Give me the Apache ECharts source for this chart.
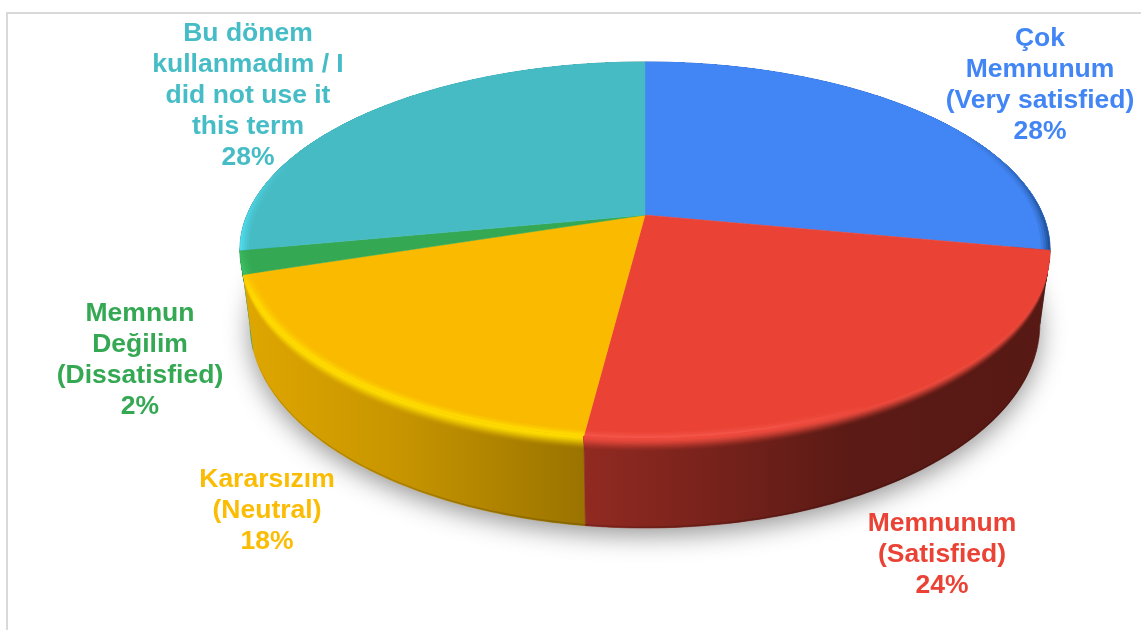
<!DOCTYPE html>
<html><head><meta charset="utf-8">
<style>html,body{margin:0;padding:0;background:#fff}#c{width:1141px;height:630px}</style>
<script src="https://cdn.jsdelivr.net/npm/echarts@6/dist/echarts.min.js"></script>
</head><body><div id="c"></div>
<script>
// ---- data ----
const categories = ['Çok\nMemnunum\n(Very satisfied)', 'Memnunum\n(Satisfied)', 'Kararsızım\n(Neutral)', 'Memnun\nDeğilim\n(Dissatisfied)', 'Bu dönem\nkullanmadım / I\ndid not use it\nthis term'];
const values = [28, 24, 18, 2, 28];
// ---- styles ----
const faceColors = ['#4285f4', '#ea4335', '#f9ba00', '#34a853', '#46bbc4'];
const labelColors = ['#4285f4', '#ea4335', '#fbbc04', '#34a853', '#46bdc6'];
const bevelColors = ['#4285f4', '#ee4a3d', '#ffdc00', '#34a853', '#46bbc4'];
const rimBands = [
  {color: '#1d4f92', yFrom: 130, yTo: 250},
  {color: '#f4564a', yFrom: 405, yTo: 437},
  {color: '#ffdc00', yFrom: 265, yTo: 300},
  {color: '#3bbf62', yFrom: 240, yTo: 270},
  {color: '#4fdcec', yFrom: 160, yTo: 250}
];
const labelAnchors = [[1040, 85], [942, 555], [267, 511], [140, 360], [248, 96]];
const shadeStops = [[240, .9], [400, .8], [585, .62], [700, .52], [850, .39], [1050, .37]];
// projected geometry of the top and bottom discs
const topPlane = {cx: 645, cy: 215, a: 181.5, d: 398, c: -0.186};
const bottomPlane = {cx: 645, cy: 286, a: 197, d: 388, c: -0.186};

const total = values.reduce((s, v) => s + v, 0);
function project(pl, deg, r) {
  const t = deg * Math.PI / 180, u = Math.sin(t) * r, v = -Math.cos(t) * r, w = 1 + pl.c * v;
  return [pl.cx + pl.d * u / w, pl.cy + pl.a * v / w];
}
function between(deg, s) {
  const p = project(topPlane, deg, 1), q = project(bottomPlane, deg, 1);
  return [p[0] + (q[0] - p[0]) * s, p[1] + (q[1] - p[1]) * s];
}
function hex(c) { return [1, 3, 5].map(i => parseInt(c.substr(i, 2), 16)); }
function mix(a, b, t) { return a.map((x, i) => x + (b[i] - x) * t); }
function css(c) { return 'rgb(' + c.map(Math.round).join(',') + ')'; }
function wallGradient(idx, hiT, dark) {
  const base = hex(faceColors[idx]), hi = hex(bevelColors[idx]);
  const stops = shadeStops.map(([x, sh]) => {
    const w = base.map(b => b * sh * (dark || 1));
    return {offset: (x - 240) / 810, color: css(mix(w, hi, hiT))};
  });
  return new echarts.graphic.LinearGradient(240, 0, 1050, 0, stops, true);
}
function angles(idx) {
  let s = 0;
  for (let i = 0; i < idx; i++) s += values[i];
  return [s / total * 360, (s + values[idx]) / total * 360];
}
function sweep(a, b, fn) {
  const pts = [], n = Math.max(2, Math.ceil(b - a));
  for (let i = 0; i <= n; i++) pts.push(fn(a + (b - a) * i / n));
  return pts;
}
function strip(a, b, s0, s1) {
  return sweep(a, b, d => between(d, s0)).concat(sweep(a, b, d => between(d, s1)).reverse());
}
const bevelDepth = .16, bevelSteps = 16;

function renderWall(params, api) {
  const idx = params.dataIndex, [a, b] = angles(idx);
  const mid = (a + b) / 2 * Math.PI / 180, base = Math.round(-Math.cos(mid) * 100) * 100;
  const children = [];
  if (idx === 0) {
    children.push({type: 'polygon', z2: -100000, shape: {points: sweep(0, 360, d => project(bottomPlane, d, 1))},
      style: {fill: '#fff', shadowBlur: 26, shadowColor: 'rgba(0,0,0,.42)', shadowOffsetY: 7}});
  }
  const g = wallGradient(idx, 0);
  children.push({type: 'polygon', z2: base, shape: {points: strip(a, b, 0, 1)}, style: {fill: g, stroke: g, lineWidth: .6}});
  children.push({type: 'polygon', z2: base + 1, shape: {points: strip(a, b, .98, 1)}, style: {fill: wallGradient(idx, 0, .85)}});
  // nested bevel bands, widest first, so no seams show between them
  for (let i = 0; i < bevelSteps; i++) {
    const f = 1 - i / bevelSteps;
    const t = i / (bevelSteps - 1);
    children.push({type: 'polygon', z2: base + 2 + i, shape: {points: strip(a, b, 0, bevelDepth * f)},
      style: {fill: wallGradient(idx, t * t * (3 - 2 * t))}});
  }
  return {type: 'group', children};
}
function renderTop(params, api) {
  const idx = params.dataIndex, [a, b] = angles(idx), fill = faceColors[idx];
  const children = [{type: 'polygon', shape: {points: [project(topPlane, 0, 0)].concat(sweep(a, b, d => project(topPlane, d, 1)))},
    style: {fill, stroke: fill, lineWidth: .5}}];
  const rim = rimBands[idx];
  if (rim) {
    const rgb = hex(rim.color), rgba = o => 'rgba(' + rgb.join(',') + ',' + o + ')';
    // nested rim bands, outermost last
    [[.978, .2], [.984, .3], [.99, .5], [.995, .8]].forEach(([r0, o]) => {
      children.push({type: 'polygon',
        shape: {points: sweep(a, b, d => project(topPlane, d, 1)).concat(sweep(a, b, d => project(topPlane, d, r0)).reverse())},
        style: {fill: new echarts.graphic.LinearGradient(0, rim.yFrom, 0, rim.yTo, [{offset: 0, color: rgba(0)}, {offset: 1, color: rgba(o)}], true)}});
    });
  }
  const pos = labelAnchors[idx];
  children.push({type: 'text', style: {
    text: categories[idx] + '\n' + api.value(0) + '%', x: pos[0], y: pos[1],
    fill: labelColors[idx], font: 'bold 26.5px "Liberation Sans", Arial, sans-serif',
    align: 'center', verticalAlign: 'middle', lineHeight: 31}});
  return {type: 'group', children};
}
const chart = echarts.init(document.getElementById('c'), null, {renderer: 'canvas'});
const seriesData = values.map(v => [v]);
chart.setOption({
  animation: false,
  backgroundColor: '#fff',
  graphic: [
    {type: 'line', shape: {x1: 7, y1: 12, x2: 7, y2: 630}, style: {stroke: '#d9d9d9', lineWidth: 2}},
    {type: 'line', shape: {x1: 6, y1: 13, x2: 1141, y2: 13}, style: {stroke: '#d9d9d9', lineWidth: 2}}
  ],
  series: [
    {type: 'custom', coordinateSystem: 'none', silent: true, z: 1, clip: false, renderItem: renderWall, data: seriesData},
    {type: 'custom', coordinateSystem: 'none', silent: true, z: 2, clip: false, renderItem: renderTop, data: seriesData}
  ]
});
</script></body></html>
